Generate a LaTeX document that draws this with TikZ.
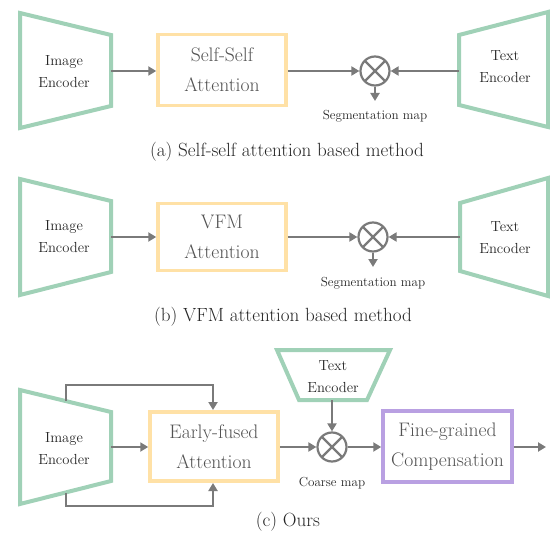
\documentclass[tikz,border=0pt]{standalone}
\usepackage{fontspec}
\usetikzlibrary{arrows.meta,calc}
\definecolor{encgreen}{HTML}{A0D1B7}
\definecolor{attyellow}{HTML}{FFE1A6}
\definecolor{fgpurple}{HTML}{B9A0E2}
\definecolor{arrgray}{HTML}{7A7A7A}
\definecolor{txtgray}{HTML}{525252}
\begin{document}
\begin{tikzpicture}[x=1pt,y=-1pt,
  enc/.style={draw=encgreen,line width=4pt,line join=miter},
  enctext/.style={align=center,font=\fontsize{14.6}{22}\selectfont,text=black!85,inner sep=0pt},
  attbox/.style={draw=attyellow,line width=3.5pt,text=txtgray,font=\fontsize{19.6}{30}\selectfont,align=center,inner sep=0pt},
  fgbox/.style={draw=fgpurple,line width=3.5pt,text=txtgray,font=\fontsize{19.6}{30}\selectfont,align=center,inner sep=0pt},
  otimesnode/.style={circle,draw=arrgray,line width=2.2pt,minimum size=29pt,inner sep=0pt,
    path picture={\draw[arrgray,line width=2.2pt]
      (path picture bounding box.north west)--(path picture bounding box.south east)
      (path picture bounding box.north east)--(path picture bounding box.south west);}},
  conn/.style={draw=arrgray,line width=2.2pt,-{Triangle[length=8pt,width=9pt]}},
  smalllabel/.style={font=\fontsize{13.1}{15}\selectfont,text=black!85,inner sep=0pt},
  caption/.style={font=\fontsize{19.1}{22}\selectfont,text=black!85,inner sep=0pt}
]
\useasboundingbox (0,0) rectangle (550,535);

% ---------------- (a) ----------------
\draw[enc] (20,13) -- (111,35) -- (111,106) -- (20,128) -- cycle;
\node[enctext] (imgA) at (64,72) {Image\\Encoder};
\coordinate (imgAout) at (111,71);
\node[attbox,minimum width=128pt,minimum height=71pt] (attA) at (222,70) {Self-Self\\Attention};
\node[otimesnode] (mulA) at (375,71) {};
\draw[enc] (459,35) -- (548,12) -- (548,127) -- (459,105) -- cycle;
\node[enctext] (txtA) at (505,67) {Text\\Encoder};
\coordinate (txtAin) at (459,71);
\coordinate (segA) at (375,101);
\node[smalllabel] (segAl) at (375,116) {Segmentation map};
\draw[conn] (imgAout) -- (attA.west |- imgAout);
\draw[conn] (attA.east |- mulA) -- (mulA.west);
\draw[conn] (txtAin) -- (mulA.east);
\draw[conn] (mulA.south) -- (segA);
\node[caption] (capA) at (287,152) {(a) Self-self attention based method};

% ---------------- (b) ----------------
\draw[enc] (20,179) -- (111,201) -- (111,272) -- (20,295) -- cycle;
\node[enctext] (imgB) at (64,237) {Image\\Encoder};
\coordinate (imgBout) at (111,237);
\node[attbox,minimum width=128pt,minimum height=67pt] (attB) at (222,237) {VFM\\Attention};
\node[otimesnode] (mulB) at (373,237) {};
\draw[enc] (460,203) -- (548,178) -- (548,296) -- (460,271) -- cycle;
\node[enctext] (txtB) at (505,238) {Text\\Encoder};
\coordinate (txtBin) at (460,237);
\coordinate (segB) at (373,267);
\node[smalllabel] (segBl) at (373,283) {Segmentation map};
\draw[conn] (imgBout) -- (attB.west |- imgBout);
\draw[conn] (attB.east |- mulB) -- (mulB.west);
\draw[conn] (txtBin) -- (mulB.east);
\draw[conn] (mulB.south) -- (segB);
\node[caption] (capB) at (283,317) {(b) VFM attention based method};

% ---------------- (c) ----------------
\draw[enc] (20,390) -- (111,412) -- (111,481) -- (20,504) -- cycle;
\node[enctext] (imgC) at (64,449) {Image\\Encoder};
\coordinate (imgCout) at (111,447);
\coordinate (imgCtop) at (66,401);
\coordinate (imgCbot) at (66,493);
\node[attbox,minimum width=128pt,minimum height=69pt] (attC) at (214,446.5) {Early-fused\\Attention};
\node[otimesnode] (mulC) at (332,447) {};
\draw[enc] (277,350) -- (390,350) -- (367,400) -- (299,400) -- cycle;
\node[enctext] (txtC) at (333,377) {Text\\Encoder};
\coordinate (txtCout) at (332,400);
\node[smalllabel] (coarse) at (332,483) {Coarse map};
\node[fgbox,minimum width=129pt,minimum height=71pt] (fg) at (447.5,446.5) {Fine-grained\\Compensation};
\coordinate (outC) at (546,447);
\draw[conn] (imgCout) -- (attC.west |- imgCout);
\draw[conn] (imgCtop) |- (213,385) -- (213,410);
\draw[conn] (imgCbot) |- (213,506) -- (213,483);
\draw[conn] (attC.east |- mulC) -- (mulC.west);
\draw[conn] (txtCout) -- (mulC.north);
\draw[conn] (mulC.east) -- (fg.west |- mulC);
\draw[conn] (fg.east |- mulC) -- (outC);
\node[caption] (capC) at (288,522) {(c) Ours};
\end{tikzpicture}
\end{document}
